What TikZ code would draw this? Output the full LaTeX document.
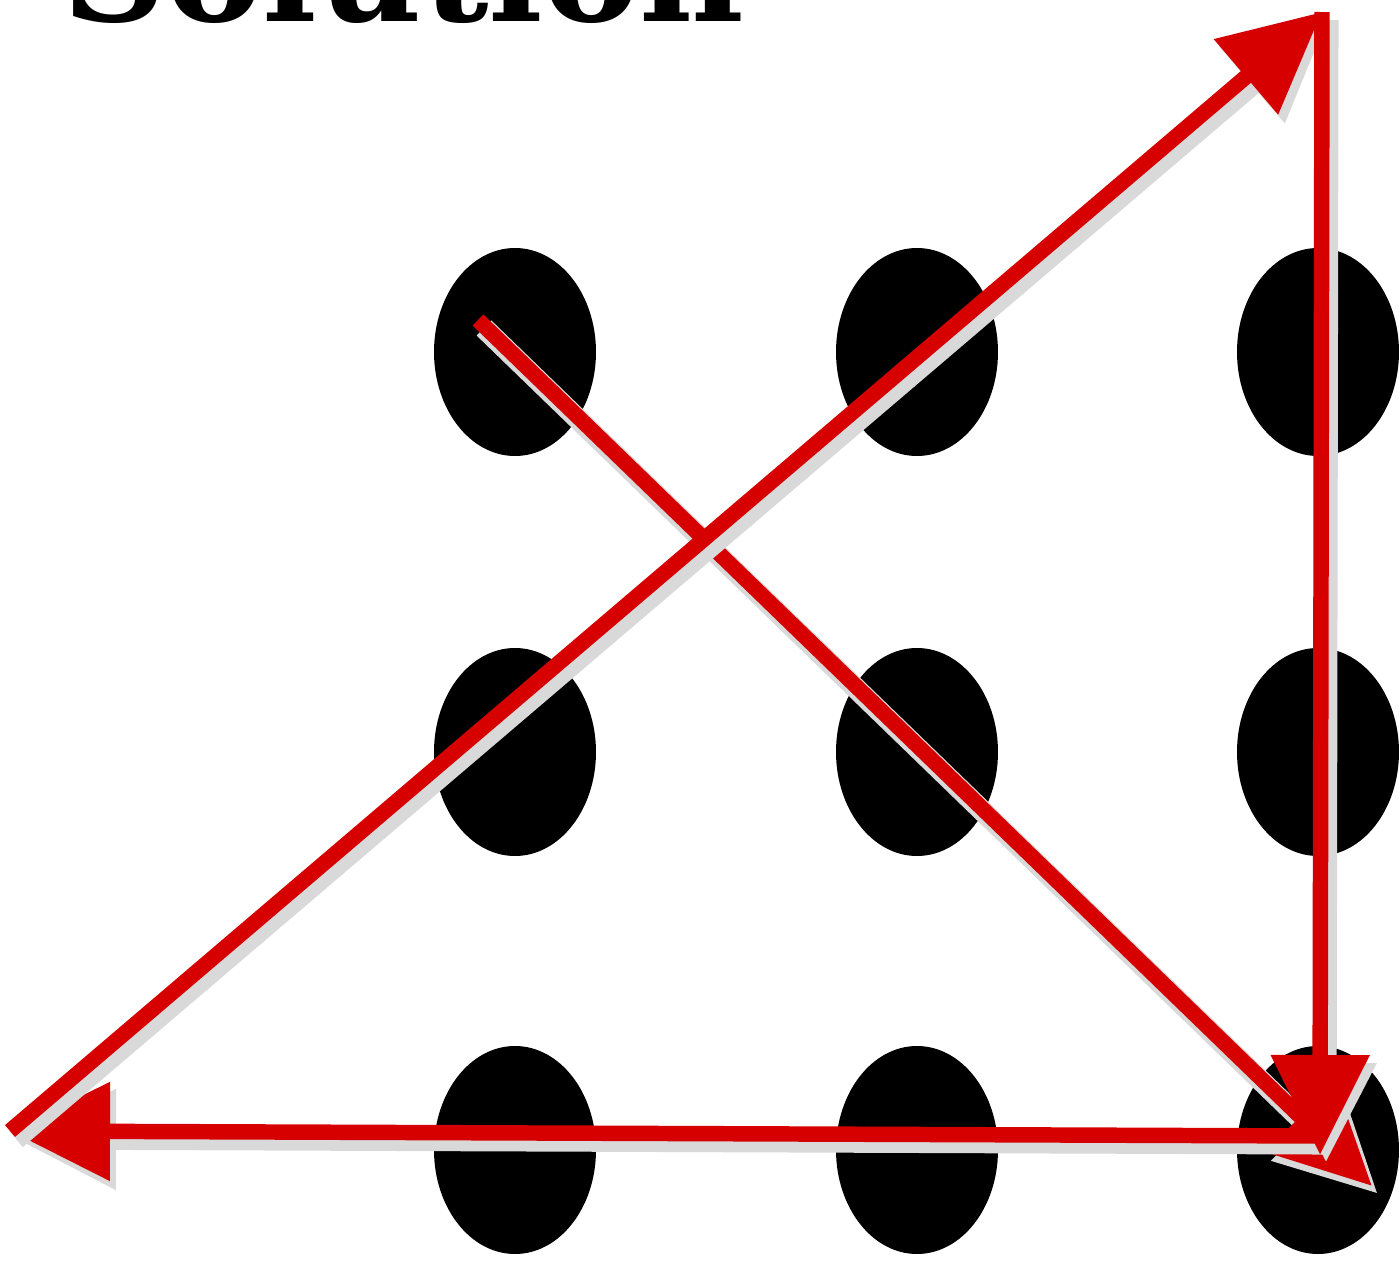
\documentclass[tikz,border=0pt]{standalone}
\usepackage{fontspec}
\usetikzlibrary{arrows.meta,shapes.geometric}
\newfontfamily\titlefont{DejaVu Serif}
\definecolor{solred}{RGB}{214,0,0}

\begin{document}
\begin{tikzpicture}[
  dot/.style={ellipse, fill=black, minimum width=1.62cm, minimum height=2.08cm, inner sep=0pt},
  arr/.style={solred, line width=4.4pt, -{Triangle[length=1cm,width=0.95cm]},
    preaction={draw=black!15, line width=6pt, transform canvas={shift={(0.06,-0.08)}}}},
  title/.style={font=\titlefont\bfseries\fontsize{41}{45}\selectfont, inner sep=0pt, anchor=base west}
]
\clip (0,0) rectangle (13.99,-12.61);
\node[title] (ttl) at (0.62,-0.21) {Solution};
% nine dots
\foreach \c/\x in {1/5.15,2/9.17,3/13.18}
  \foreach \r/\y in {1/-3.52,2/-7.52,3/-11.5}
    \node[dot] (d\r\c) at (\x,\y) {};
% path of the four lines
\coordinate (p0) at (4.78,-3.20);
\coordinate (p1) at (13.72,-11.86);
\coordinate (p2) at (13.2,-11.36);
\coordinate (p3) at (0.1,-11.31);
\coordinate (p4) at (13.22,-0.12);
\coordinate (p5) at (13.2,-11.55);
\draw[arr] (p0) -- (p1);
\draw[arr] (p2) -- (p3);
\draw[arr] (p3) -- (p4);
\draw[arr] (p4) -- (p5);
\end{tikzpicture}
\end{document}
